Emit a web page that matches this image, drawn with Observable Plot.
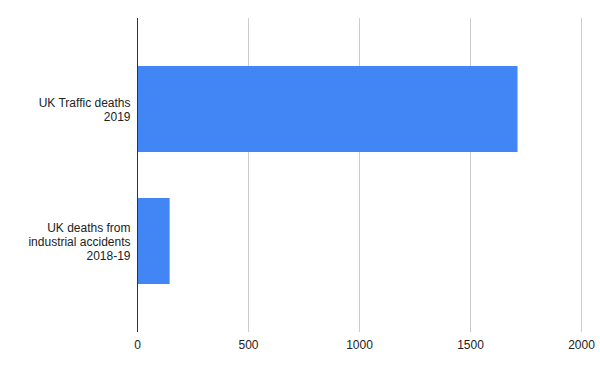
<!DOCTYPE html>
<html>
<head>
<meta charset="utf-8">
<script src="https://cdn.jsdelivr.net/npm/d3@7"></script>
<script src="https://cdn.jsdelivr.net/npm/@observablehq/plot@0.6"></script>
<style>
  html, body { margin: 0; padding: 0; background: #fff; }
  #chart svg { display: block; }
</style>
</head>
<body>
<div id="chart"></div>
<script>
const categories = ["UK Traffic deaths\n2019", "UK deaths from\nindustrial accidents\n2018-19"];
const values = [1714, 147];
const xTicks = [0, 500, 1000, 1500, 2000];

const data = categories.map((c, i) => ({category: c, value: values[i]}));

const chart = Plot.plot({
  width: 600,
  height: 371,
  marginTop: 18,
  marginBottom: 39,
  marginLeft: 137,
  marginRight: 19,
  style: {fontFamily: "'Liberation Sans', Arial, sans-serif", fontSize: "12px", color: "#222", background: "#fff"},
  x: {domain: [0, 2000], ticks: xTicks},
  y: {domain: categories, paddingInner: 0.35, paddingOuter: 0.36},
  marks: [
    Plot.ruleX(xTicks.filter(d => d !== 0), {stroke: "#ccc", strokeWidth: 1}),
    Plot.barX(data, {x: "value", y: "category", fill: "#4285F4"}),
    Plot.ruleX([0], {stroke: "#333", strokeWidth: 1}),
    Plot.axisX({ticks: xTicks, tickFormat: d3.format("d"), tickSize: 0, tickPadding: 8, label: null, fill: "#222", fontSize: 12}),
    Plot.axisY({tickSize: 0, tickPadding: 7, label: null, fill: "#222", fontSize: 12, lineHeight: 1.17})
  ]
});
document.getElementById("chart").appendChild(chart);
</script>
</body>
</html>
